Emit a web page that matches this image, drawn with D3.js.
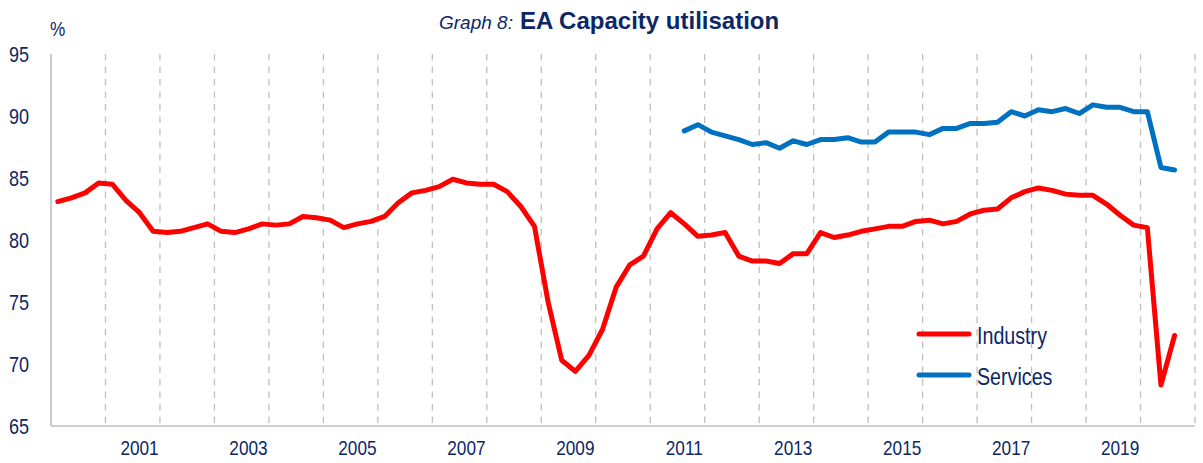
<!DOCTYPE html>
<html>
<head>
<meta charset="utf-8">
<script src="https://cdn.jsdelivr.net/npm/d3@7"></script>
<style>
  html, body { margin: 0; padding: 0; background: #ffffff; }
  svg { display: block; }
  text { font-family: "Liberation Sans", Arial, sans-serif; }
</style>
</head>
<body>
<svg id="chart" width="1203" height="463"></svg>
<script>
// ---- Data (quarterly, first point 2000 Q1) ----
const startYear = 2000;
const industry = [
  83.1, 83.4, 83.8, 84.6,   // 2000
  84.5, 83.2, 82.2, 80.7,   // 2001
  80.6, 80.7, 81.0, 81.3,   // 2002
  80.7, 80.6, 80.9, 81.3,   // 2003
  81.2, 81.3, 81.9, 81.8,   // 2004
  81.6, 81.0, 81.3, 81.5,   // 2005
  81.9, 83.0, 83.8, 84.0,   // 2006
  84.3, 84.9, 84.6, 84.5,   // 2007
  84.5, 83.9, 82.7, 81.1,   // 2008
  75.0, 70.3, 69.4, 70.7,   // 2009
  72.8, 76.2, 78.0, 78.7,   // 2010
  80.9, 82.2, 81.3, 80.3,   // 2011
  80.4, 80.6, 78.7, 78.3,   // 2012
  78.3, 78.1, 78.9, 78.9,   // 2013
  80.6, 80.2, 80.4, 80.7,   // 2014
  80.9, 81.1, 81.1, 81.5,   // 2015
  81.6, 81.3, 81.5, 82.1,   // 2016
  82.4, 82.5, 83.4, 83.9,   // 2017
  84.2, 84.0, 83.7, 83.6,   // 2018
  83.6, 82.9, 82.0, 81.2,   // 2019
  81.0, 68.3, 72.3          // 2020
];
const servicesStartIndex = 46; // 2011 Q3
const services = [
                88.8, 89.3,   // 2011
  88.7, 88.4, 88.1, 87.7,     // 2012
  87.85, 87.4, 88.0, 87.7,    // 2013
  88.1, 88.1, 88.25, 87.9,    // 2014
  87.9, 88.7, 88.7, 88.7,     // 2015
  88.5, 89.0, 89.0, 89.4,     // 2016
  89.4, 89.5, 90.35, 90.0,    // 2017
  90.5, 90.35, 90.6, 90.2,    // 2018
  90.9, 90.7, 90.7, 90.35,    // 2019
  90.35, 85.85, 85.65         // 2020
];
const yTicks = [65, 70, 75, 80, 85, 90, 95];
const xTickLabels = ["2001", "2003", "2005", "2007", "2009", "2011", "2013", "2015", "2017", "2019"];
const gridYears = d3.range(2001, 2022);
const seriesNames = ["Industry", "Services"];
const seriesColors = ["#FF0000", "#0070C0"];

// ---- Layout ----
const textColor = "#0c2766";
const gridColor = "#BFBFBF";
const narrow = 0.82;

const svg = d3.select("#chart");
const x = d3.scaleLinear().domain([2000, 2021]).range([51, 1195]);
const y = d3.scaleLinear().domain([65, 95]).range([426, 54]);

// quarter index -> decimal year at middle of quarter
const qx = i => x(startYear + (i + 0.5) / 4);

// gridlines (dashed, at year boundaries)
svg.append("g").selectAll("line").data(gridYears).join("line")
  .attr("x1", d => x(d)).attr("x2", d => x(d))
  .attr("y1", y(95)).attr("y2", y(65))
  .attr("stroke", gridColor).attr("stroke-width", 1.3)
  .attr("stroke-dasharray", "6.5,6");

// axes lines
svg.append("line").attr("x1", x(2000)).attr("x2", x(2000)).attr("y1", y(95)).attr("y2", y(65))
  .attr("stroke", gridColor).attr("stroke-width", 1.6);
svg.append("line").attr("x1", x(2000)).attr("x2", x(2021)).attr("y1", y(65)).attr("y2", y(65))
  .attr("stroke", gridColor).attr("stroke-width", 1.6);

// narrow text helper
function narrowText(parent, tx, ty, str, size, anchor) {
  const g = parent.append("g").attr("transform", `translate(${tx},${ty}) scale(${narrow},1)`);
  g.append("text").attr("x", 0).attr("y", 0)
    .attr("text-anchor", anchor)
    .attr("font-size", size + "px")
    .attr("fill", textColor)
    .text(str);
  return g;
}

// y tick labels
const yl = svg.append("g");
yTicks.forEach(t => narrowText(yl, 29, y(t) + 7.8, String(t), 22, "end"));

// % unit
narrowText(svg, 50, 36, "%", 21, "start");

// x tick labels
const xl = svg.append("g");
xTickLabels.forEach(lbl => narrowText(xl, x(+lbl + 0.625), 455, lbl, 21, "middle"));

// lines
const line = d3.line()
  .defined(d => d.v != null)
  .x(d => qx(d.i))
  .y(d => y(d.v));

const indData = industry.map((v, i) => ({ i, v }));
const srvData = services.map((v, k) => ({ i: k + servicesStartIndex, v }));

svg.append("path").datum(indData).attr("d", line)
  .attr("fill", "none").attr("stroke", seriesColors[0]).attr("stroke-width", 5)
  .attr("stroke-linejoin", "round").attr("stroke-linecap", "round");
svg.append("path").datum(srvData).attr("d", line)
  .attr("fill", "none").attr("stroke", seriesColors[1]).attr("stroke-width", 5)
  .attr("stroke-linejoin", "round").attr("stroke-linecap", "round");

// legend
const legendY = [334, 375];
seriesNames.forEach((name, k) => {
  svg.append("line").attr("x1", 919).attr("x2", 969)
    .attr("y1", legendY[k]).attr("y2", legendY[k])
    .attr("stroke", seriesColors[k]).attr("stroke-width", 5).attr("stroke-linecap", "round");
  narrowText(svg, 977, legendY[k] + 9.5, name, 24, "start");
});

// title
svg.append("text").attr("x", 439).attr("y", 28.5)
  .attr("font-size", "19px").attr("font-style", "italic").attr("fill", textColor)
  .text("Graph 8:");
svg.append("text").attr("x", 520).attr("y", 28.5)
  .attr("font-size", "24px").attr("font-weight", "bold").attr("fill", textColor)
  .text("EA Capacity utilisation");
</script>
</body>
</html>
